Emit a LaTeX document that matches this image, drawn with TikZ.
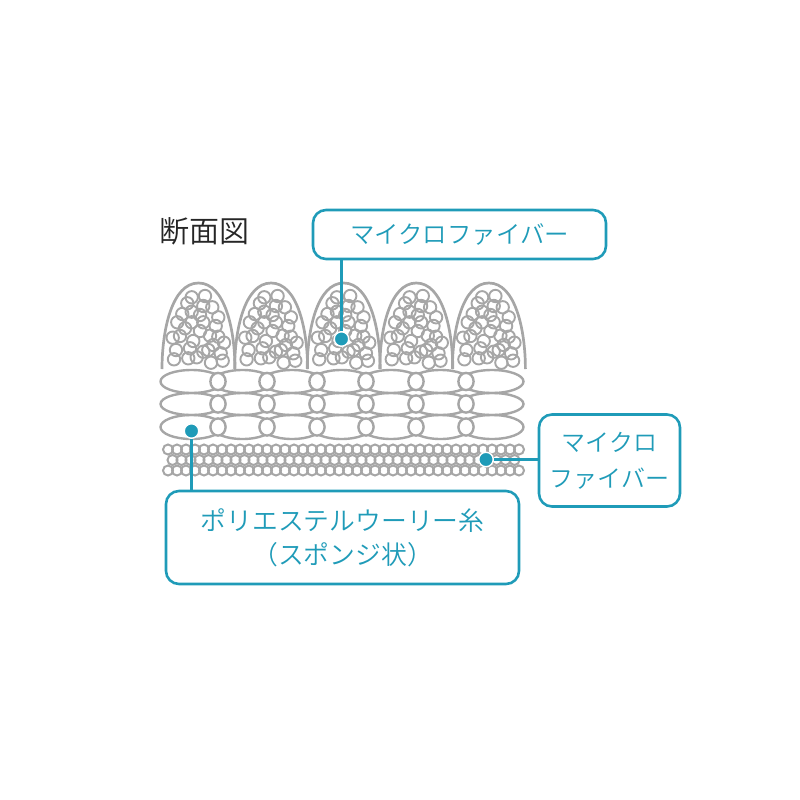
\documentclass[tikz,border=0pt]{standalone}
\usepackage{fontspec}
\newfontfamily\jpfont{Noto Sans CJK JP DemiLight}
\definecolor{leadteal}{HTML}{1F9BB8}
\definecolor{yarngray}{HTML}{A6A6A6}
\tikzset{
  yarn/.style={draw=yarngray,line width=2.4pt},
  ring/.style={yarn,fill=white},
  labelbox/.style={draw=leadteal,line width=2.6pt,rounded corners=13pt,text=leadteal,align=center,inner sep=0pt},
  leaddot/.style={circle,fill=leadteal,draw=white,line width=1.4pt,minimum size=14.5pt,inner sep=0pt},
  leader/.style={draw=leadteal,line width=2.4pt}
}
\begin{document}
\begin{tikzpicture}[x=1pt,y=-1pt,font=\jpfont]
\useasboundingbox (0,0) rectangle (800,800);

\node[anchor=center,font=\jpfont\fontsize{30}{30}\selectfont,text=black!85] (title) at (204,231) {断面図};

% top pile
\foreach \i in {0,...,4}{
  \begin{scope}[xshift=\i*72.6pt]
  \draw[yarn,line width=2.7pt] (162,369) .. controls (162,330) and (172,283) .. (198.5,283)
     .. controls (225,283) and (235,330) .. (235,369);
  \foreach \cx/\cy in {191.7/297.3,205/296,187.3/303.3,203.3/306,212.3/307.3,182.3/314,
      191.7/311.7,200/315,218.3/317.3,177.3/322.3,191.7/322.3,203.3/322.3,185/328.3,
      200/331,215.7/326,172.7/337.7,180/336,210/335.7,193.3/341,218.3/336.7,224/342.7,
      176/350,190/348.3,208.3/350,213.3/345,220.7/353.3,174/359.3,188.3/358.3,
      196.7/357.3,211/362.7,222.7/360.7,203.3/351.7}
    \draw[yarn,line width=1.9pt] (\cx,\cy) circle (6.2);
  \end{scope}
}

% sponge yarn rows
\foreach \ry/\rh in {381.5/11.5,404/11,427/12}{
  \draw[yarn] (191.5,\ry) ellipse (31 and \rh);
  \draw[yarn] (492,\ry) ellipse (31.5 and \rh);
  \foreach \ex in {242.5,292,341.5,391,440.5}
    \draw[yarn] (\ex,\ry) ellipse (30 and \rh);
  \foreach \ex in {218,267,317,366,416,466}
    \draw[ring] (\ex,\ry) ellipse (7.6 and 8.6);
}

% bottom rows
\foreach \n in {0,...,39}{
  \draw[yarn,line width=2pt] (168+\n*9,449.5) circle (5);
  \draw[yarn,line width=2pt] (168+\n*9,470.5) circle (5);
}
\foreach \n in {0,...,38}
  \draw[yarn,line width=2pt] (172.5+\n*9,460) circle (5);

% labels
\node[labelbox,minimum width=293pt,minimum height=49pt,font=\jpfont\fontsize{24.4}{24}\selectfont] (fiberbox) at (459.5,234.5) {マイクロファイバー};
\node[labelbox,minimum width=141pt,minimum height=92pt,font=\jpfont\fontsize{24}{36}\selectfont] (backbox) at (609.5,460.5) {マイクロ\\ファイバー};
\node[labelbox,minimum width=353pt,minimum height=93pt,font=\jpfont\fontsize{25.8}{34}\selectfont] (woolybox) at (342.5,537.5) {ポリエステルウーリー糸\\（スポンジ状）};

\node[leaddot] (fiberdot) at (341.5,339) {};
\node[leaddot] (woolydot) at (191.5,431) {};
\node[leaddot] (backdot) at (486,459.5) {};

\draw[leader] (fiberdot) -- (fiberdot |- fiberbox.south);
\draw[leader] (woolydot) -- (woolydot |- woolybox.north);
\draw[leader] (backdot) -- (backdot -| backbox.west);
\end{tikzpicture}
\end{document}
